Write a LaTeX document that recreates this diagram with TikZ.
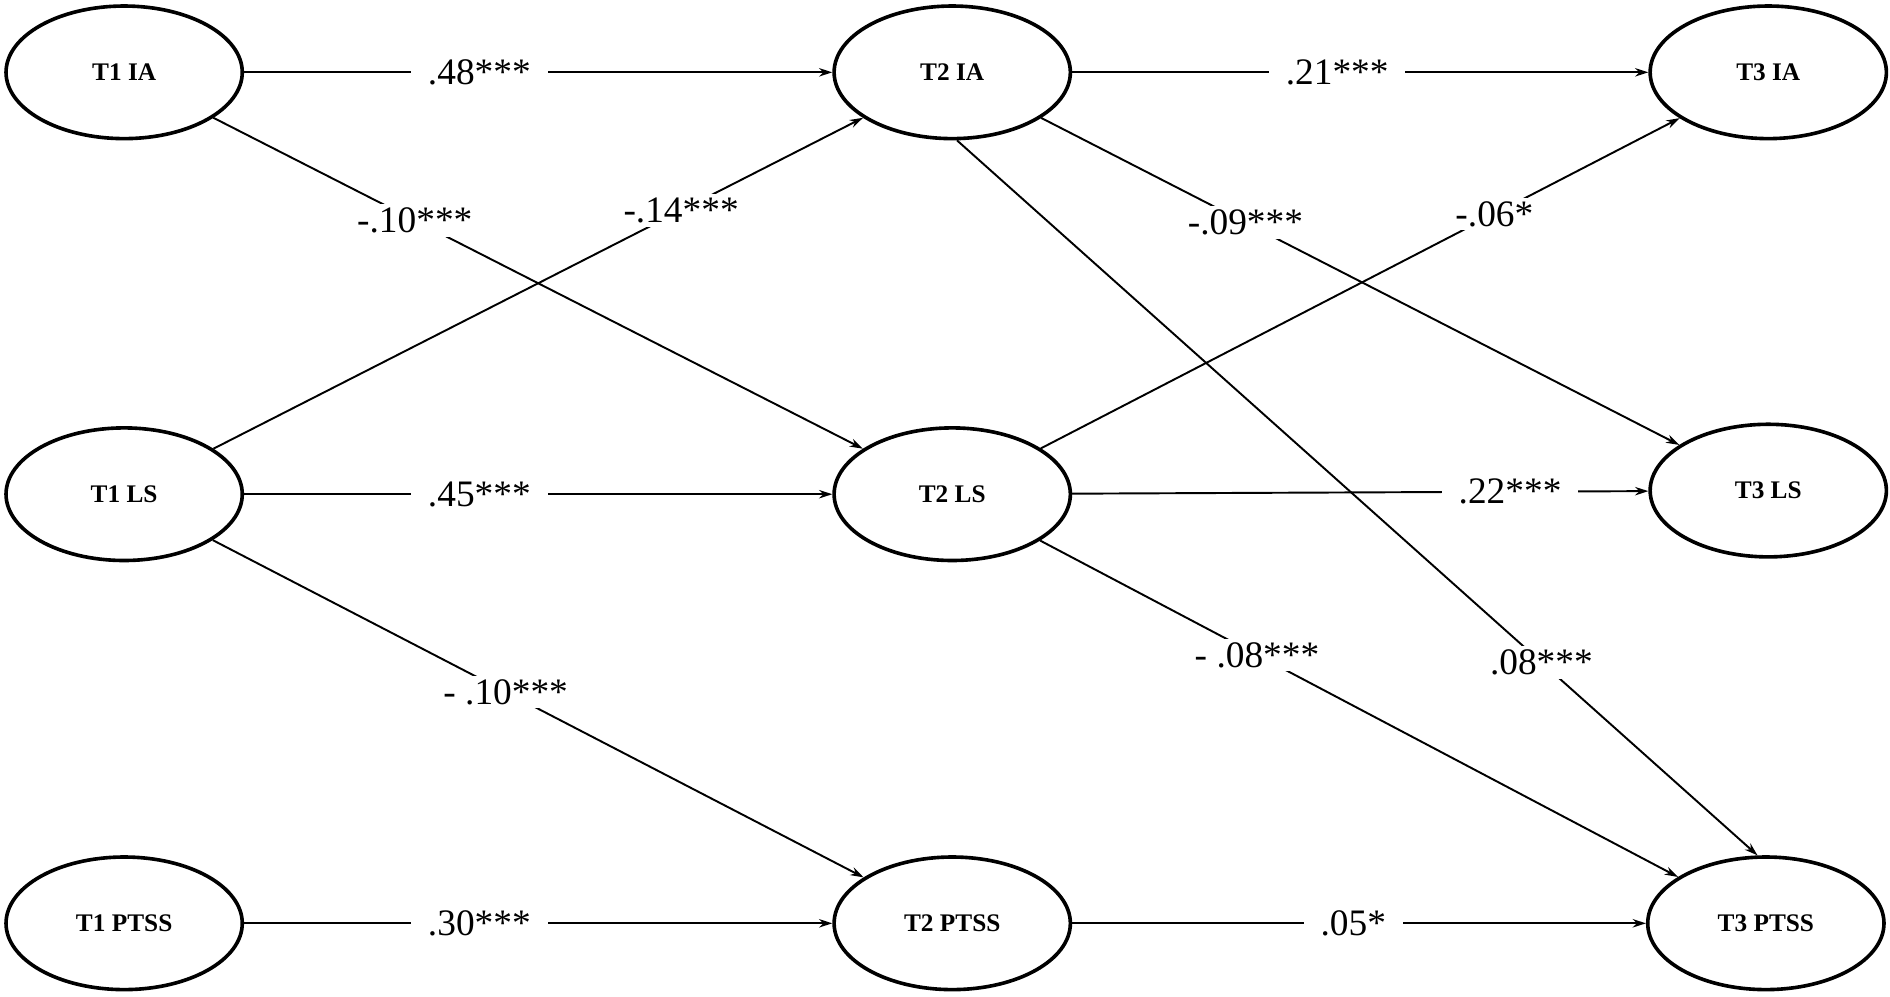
\documentclass[tikz,border=0pt]{standalone}
\usepackage{fontspec}
\setmainfont{Liberation Serif}
\usetikzlibrary{shapes.geometric,arrows.meta}
\begin{document}
\begin{tikzpicture}[x=1pt,y=-1pt,
  lat/.style={ellipse,draw,line width=3pt,minimum width=196pt,minimum height=110pt,inner sep=0pt,font=\fontsize{21}{24}\selectfont\bfseries},
  path/.style={line width=1.6pt,-{Stealth[length=11pt,width=7pt]}},
  coef/.style={fill=white,inner xsep=14pt,inner ysep=3pt,font=\fontsize{31}{36}\selectfont}]
\useasboundingbox (0,0) rectangle (1568,827);
\node[lat] (a1) at (103,60) {T1 IA};
\node[lat] (a2) at (790,60) {T2 IA};
\node[lat] (a3) at (1467,60) {T3 IA};
\node[lat] (l1) at (103,410) {T1 LS};
\node[lat] (l2) at (790,410) {T2 LS};
\node[lat] (l3) at (1467,407) {T3 LS};
\node[lat] (p1) at (103,766) {T1 PTSS};
\node[lat] (p2) at (790,766) {T2 PTSS};
\node[lat] (p3) at (1465,766) {T3 PTSS};
\draw[path] (a1) -- node[coef,pos=0.40]{.48***} (a2);
\draw[path] (a2) -- node[coef,pos=0.46]{.21***} (a3);
\draw[path] (a1) -- node[coef,pos=0.31]{-.10***} (l2);
\draw[path] (l1) -- node[coef,pos=0.72]{-.14***} (a2);
\draw[path] (a2) -- node[coef,pos=0.32]{-.09***} (l3);
\draw[path] (l2) -- node[coef,pos=0.71]{-.06*} (a3);
\draw[path] (a2.-86) -- node[coef,pos=0.73]{.08***} (p3.97);
\draw[path] (l1) -- node[coef,pos=0.40]{.45***} (l2);
\draw[path] (l2) -- node[coef,pos=0.76]{.22***} (l3);
\draw[path] (l1) -- node[coef,pos=0.45]{- .10***} (p2);
\draw[path] (l2) -- node[coef,pos=0.34]{- .08***} (p3);
\draw[path] (p1) -- node[coef,pos=0.40]{.30***} (p2);
\draw[path] (p2) -- node[coef,pos=0.49]{.05*} (p3);
\end{tikzpicture}
\end{document}
